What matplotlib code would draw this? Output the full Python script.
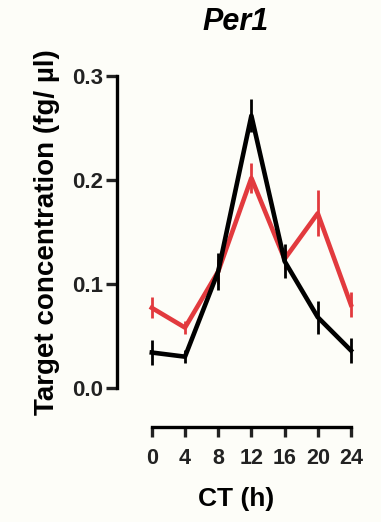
import matplotlib
matplotlib.use("Agg")
import matplotlib.pyplot as plt

# data
ct = [0, 4, 8, 12, 16, 20, 24]
black_mean = [0.034, 0.030, 0.112, 0.262, 0.122, 0.068, 0.036]
black_err = [0.012, 0.006, 0.018, 0.016, 0.016, 0.016, 0.012]
red_mean = [0.077, 0.058, 0.112, 0.202, 0.124, 0.168, 0.080]
red_err = [0.010, 0.006, 0.012, 0.014, 0.010, 0.022, 0.012]
yticks = [0.0, 0.1, 0.2, 0.3]

plt.rcParams['font.family'] = ['Liberation Sans', 'DejaVu Sans']
plt.rcParams['font.weight'] = 'bold'

fig = plt.figure(figsize=(3.81, 5.22), dpi=100)
fig.patch.set_facecolor('#fdfdf8')
ax = fig.add_axes([0.307, 0.257, 0.625, 0.597])
ax.set_facecolor('none')

ax.errorbar(ct, black_mean, yerr=black_err, color='black', lw=3.3, elinewidth=2, capsize=0, zorder=3)
ax.errorbar(ct, red_mean, yerr=red_err, color='#e23a3e', lw=3.3, elinewidth=2, capsize=0, zorder=2)

ax.set_xlim(-4.2, 24.5)
ax.set_ylim(0, 0.3)
ax.set_xticks(ct)
ax.set_yticks(yticks)
ax.set_yticklabels([f"{v:.1f}" for v in yticks])

for s in ['top', 'right']:
    ax.spines[s].set_visible(False)
ax.spines['left'].set_linewidth(2.4)
ax.spines['bottom'].set_linewidth(2.4)
ax.spines['bottom'].set_position(('outward', 28))
ax.spines['bottom'].set_bounds(0, 24)
ax.tick_params(width=2.4, colors='#222222')
ax.tick_params(axis='x', length=7, pad=8, labelsize=15.5)
ax.tick_params(axis='y', length=8, pad=2, labelsize=16)

ax.set_xlabel("CT (h)", fontsize=19, fontweight='bold', labelpad=13)
ax.set_ylabel("Target concentration (fg/ µl)", fontsize=20, fontweight='bold', labelpad=9)
ax.set_title("Per1", fontsize=22, fontweight='bold', style='italic', pad=33)

fig.savefig("out.png", dpi=100, facecolor=fig.get_facecolor())
